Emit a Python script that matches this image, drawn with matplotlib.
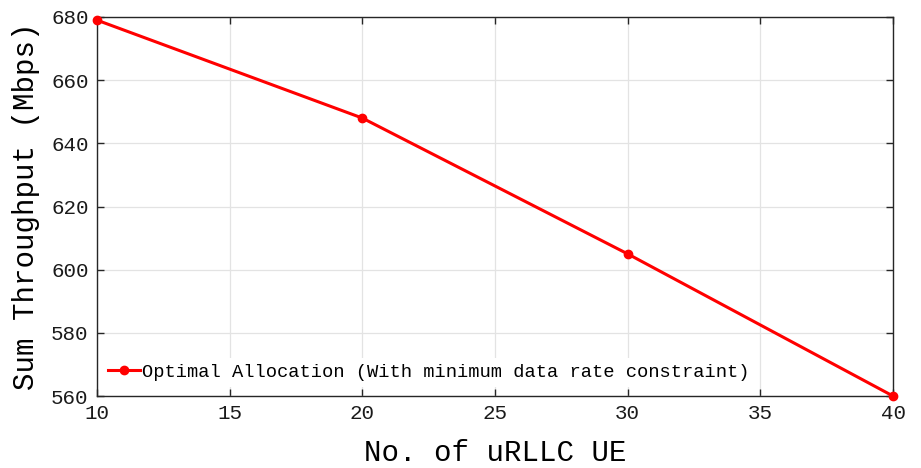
import matplotlib
matplotlib.use("Agg")
import matplotlib.pyplot as plt

# Sum throughput vs number of uRLLC users
num_urllc_ue = [10, 20, 30, 40]
sum_throughput = [679, 648, 605, 560]

x_ticks = [10, 15, 20, 25, 30, 35, 40]
y_ticks = [560, 580, 600, 620, 640, 660, 680]

plt.rcParams["font.family"] = ["Liberation Mono", "DejaVu Sans Mono"]

fig = plt.figure(figsize=(9.21, 4.68), dpi=100)
ax = fig.add_axes([0.1053, 0.1538, 0.8643, 0.8099])

ax.plot(num_urllc_ue, sum_throughput, color="#ff0000", linewidth=2.2,
        marker="o", markersize=6, clip_on=False, zorder=3,
        label="Optimal Allocation (With minimum data rate constraint)")

ax.set_xlim(10, 40)
ax.set_ylim(560, 680)
ax.set_xticks(x_ticks)
ax.set_yticks(y_ticks)
ax.grid(True, color="#e3e3e3", linewidth=0.9)
ax.set_axisbelow(True)
ax.tick_params(direction="in", top=True, right=True, length=5, width=1,
               color="#262626", labelsize=15, pad=6, labelcolor="#1a1a1a")
for side in ax.spines.values():
    side.set_color("#262626")
    side.set_linewidth(1)

ax.set_xlabel("No. of uRLLC UE", fontsize=21, labelpad=11)
ax.set_ylabel("Sum Throughput (Mbps)", fontsize=21, labelpad=8)

leg = ax.legend(loc="lower left", bbox_to_anchor=(0.0, 0.01), fontsize=13.5,
                frameon=True, fancybox=False, handlelength=1.7,
                handletextpad=0.1, borderpad=0.3, borderaxespad=0.3)
leg.get_frame().set_facecolor("white")
leg.get_frame().set_edgecolor("none")
leg.get_frame().set_alpha(1)

fig.savefig("out.png", dpi=100)
